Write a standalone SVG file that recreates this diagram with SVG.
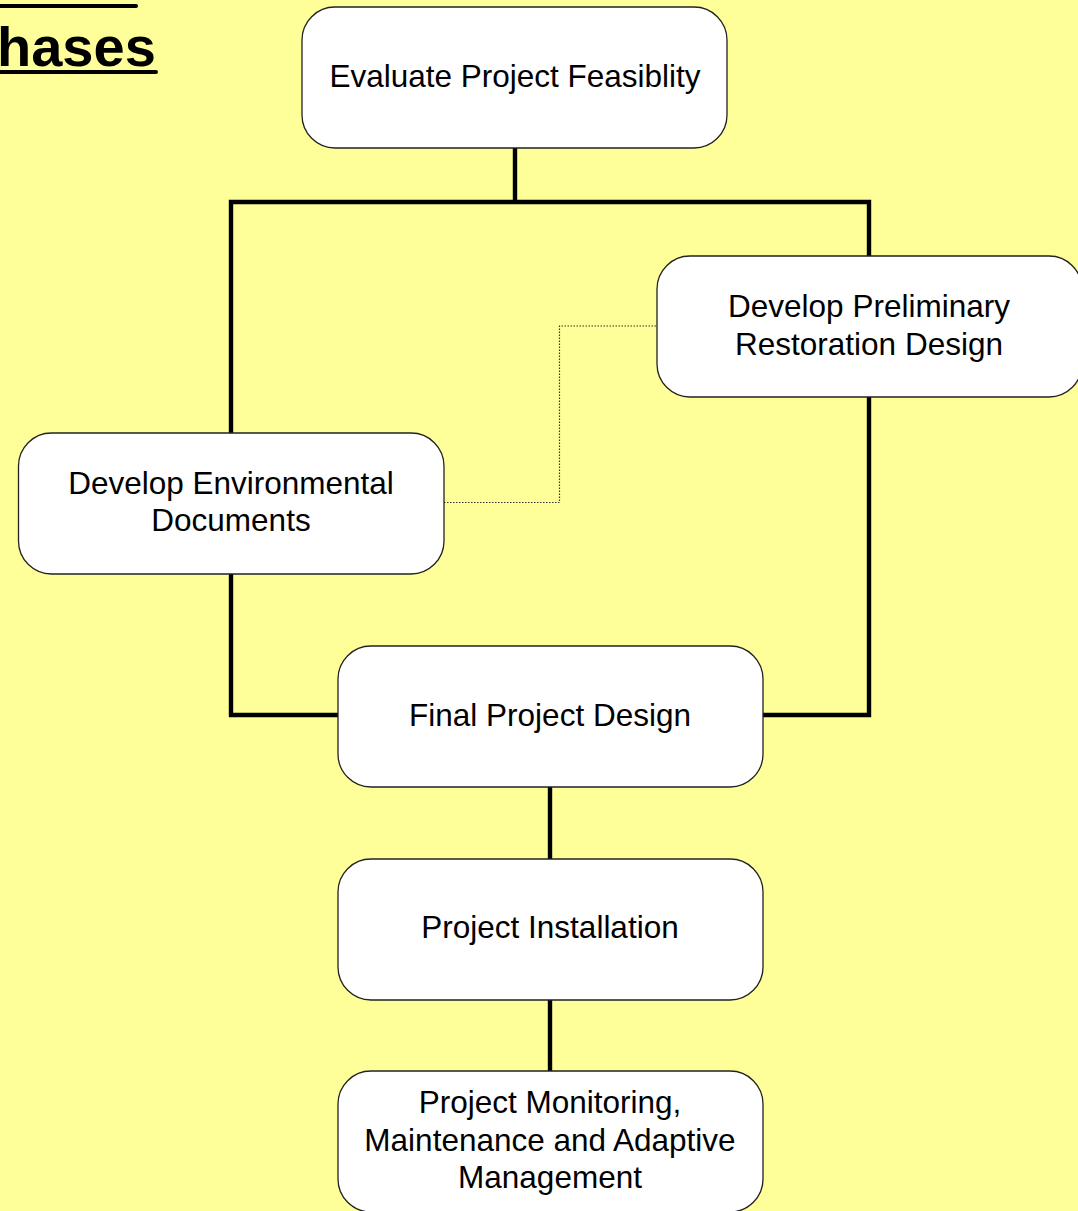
<svg xmlns="http://www.w3.org/2000/svg" width="1078" height="1211" viewBox="0 0 1078 1211">
<style>
.node rect{fill:#ffffff;stroke:#222222;stroke-width:1.3}
.node text{font-family:"Liberation Sans",Arial,sans-serif;font-size:31.5px;fill:#000000;text-anchor:middle}
.conn{fill:none;stroke:#000000;stroke-width:4.4;stroke-linejoin:miter}
.dot{fill:none;stroke:#333333;stroke-width:1.2;stroke-dasharray:1.5 1.5}
.title{font-family:"Liberation Sans",Arial,sans-serif;font-weight:bold;font-size:56px;fill:#000000}
</style>
<rect x="0" y="0" width="1078" height="1211" fill="#ffff99"/>
<g id="title">
<line x1="0" y1="6" x2="136" y2="6" stroke="#000" stroke-width="4" stroke-linecap="round"/>
<text class="title" x="-3" y="66">hases</text>
<line x1="0" y1="72" x2="156" y2="72" stroke="#000" stroke-width="4" stroke-linecap="round"/>
</g>
<g id="connectors">
<path class="conn" d="M515,148 V202 M231,433 V202 H869 V256"/>
<path class="conn" d="M231,574 V715 H338"/>
<path class="conn" d="M869,397 V715 H763"/>
<path class="conn" d="M550,787 V859"/>
<path class="conn" d="M550,1000 V1071"/>
<path class="dot" d="M444,502.5 H559.5 V326 H657"/>
</g>
<g id="evaluate" class="node">
<rect x="302" y="7" width="425" height="141" rx="33" ry="33"/>
<text x="515" y="87">Evaluate Project Feasiblity</text>
</g>
<g id="preliminary" class="node">
<rect x="657" y="256" width="425" height="141" rx="33" ry="33"/>
<text x="869" y="317">Develop Preliminary</text>
<text x="869" y="355">Restoration Design</text>
</g>
<g id="environmental" class="node">
<rect x="18.5" y="433" width="425.5" height="141" rx="33" ry="33"/>
<text x="231" y="494">Develop Environmental</text>
<text x="231" y="531">Documents</text>
</g>
<g id="final" class="node">
<rect x="338" y="646" width="425" height="141" rx="33" ry="33"/>
<text x="550" y="726">Final Project Design</text>
</g>
<g id="installation" class="node">
<rect x="338" y="859" width="425" height="141" rx="33" ry="33"/>
<text x="550" y="938">Project Installation</text>
</g>
<g id="monitoring" class="node">
<rect x="338" y="1071" width="425" height="141" rx="33" ry="33"/>
<text x="550" y="1113">Project Monitoring,</text>
<text x="550" y="1151">Maintenance and Adaptive</text>
<text x="550" y="1188">Management</text>
</g>
</svg>
